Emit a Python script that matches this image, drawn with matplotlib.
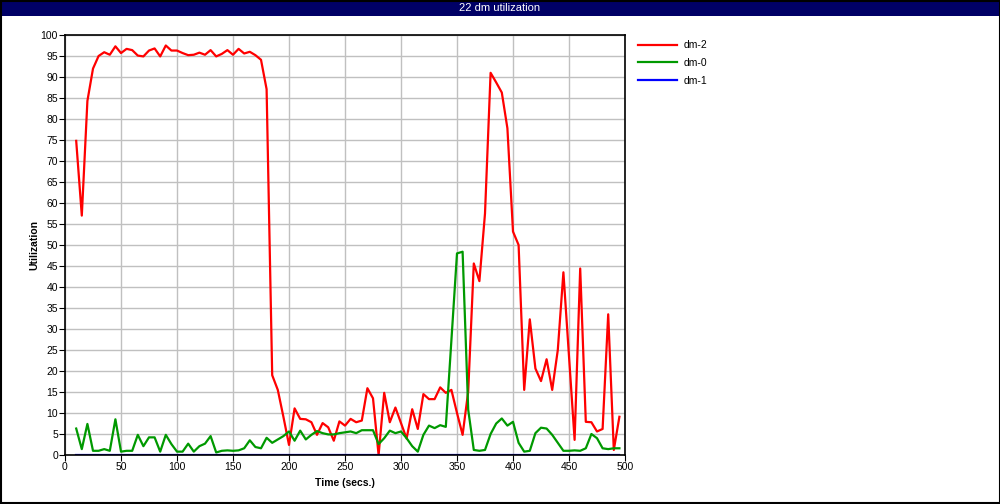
import numpy as np
import matplotlib.pyplot as plt
from matplotlib.patches import Rectangle

# sample times, every 5 seconds
t = np.arange(10, 500, 5)

dm2 = [74.8, 57.0, 84.3, 92.0, 95.0, 95.9, 95.3, 97.3, 95.7, 96.7,
       96.4, 95.1, 94.9, 96.3, 96.8, 94.9, 97.5, 96.3, 96.3, 95.7,
       95.2, 95.3, 95.8, 95.3, 96.4, 94.9, 95.5, 96.4, 95.3, 96.7,
       95.6, 96.0, 95.2, 94.1, 87.1, 19.0, 15.5, 9.1, 2.4, 11.1,
       8.6, 8.5, 7.8, 4.8, 7.6, 6.6, 3.4, 8.0, 7.0, 8.6,
       7.8, 8.2, 15.9, 13.5, 0.0, 14.8, 7.8, 11.3, 7.6, 3.9,
       10.9, 6.2, 14.5, 13.3, 13.3, 16.1, 14.8, 15.5, 10.0, 4.8,
       15.1, 45.6, 41.4, 57.5, 91.0, 88.7, 86.3, 77.8, 53.2, 50.0,
       15.5, 32.3, 20.6, 17.6, 22.8, 15.5, 25.0, 43.5, 23.5, 3.6,
       44.4, 7.9, 7.8, 5.6, 6.2, 33.5, 1.2, 9.1]

dm0 = [6.3, 1.4, 7.4, 1.0, 1.0, 1.4, 1.0, 8.5, 0.8, 1.0,
       1.0, 4.8, 2.1, 4.2, 4.2, 0.8, 4.8, 2.6, 0.8, 0.8,
       2.7, 0.8, 2.1, 2.7, 4.5, 0.6, 1.0, 1.1, 1.0, 1.1,
       1.6, 3.5, 1.9, 1.6, 4.1, 2.9, 3.7, 4.5, 5.6, 3.4,
       5.8, 3.7, 4.8, 5.7, 5.2, 4.9, 4.9, 5.2, 5.4, 5.6,
       5.2, 5.9, 5.9, 5.9, 2.6, 4.0, 5.8, 5.2, 5.6, 4.0,
       2.1, 0.8, 4.8, 7.0, 6.4, 7.1, 6.7, 27.3, 48.0, 48.4,
       10.8, 1.2, 1.0, 1.2, 5.0, 7.5, 8.7, 7.0, 7.9, 2.9,
       0.8, 1.0, 5.2, 6.5, 6.3, 4.8, 2.9, 1.0, 1.0, 1.1,
       1.0, 1.6, 5.0, 4.0, 1.6, 1.4, 1.6, 1.6]

dm1 = [0.0] * len(t)

plt.rcParams['font.family'] = ['Liberation Sans', 'DejaVu Sans']

fig = plt.figure(figsize=(10, 5.04), dpi=100)

# title bar and outer border
fig.patches.append(Rectangle((0, 1 - 16 / 504), 1, 16 / 504, transform=fig.transFigure,
                             facecolor='#000066', edgecolor='none'))
fig.patches.append(Rectangle((0.0005, 0.001), 0.999, 0.998, transform=fig.transFigure,
                             facecolor='none', edgecolor='black', linewidth=1.5))
fig.text(0.5, 1 - 8 / 504, '22 dm utilization', color='white', fontsize=8,
         ha='center', va='center')

ax = fig.add_axes([65 / 1000, 49 / 504, 560 / 1000, 420 / 504])
ax.plot(t, dm2, color='#ff0000', lw=1.6, label='dm-2')
ax.plot(t, dm0, color='#009900', lw=1.6, label='dm-0')
ax.plot(t, dm1, color='#0000ff', lw=1.6, label='dm-1')

ax.set_xlim(0, 500)
ax.set_ylim(0, 100)
ax.set_xticks(range(0, 501, 50))
ax.set_yticks(range(0, 101, 5))
ax.grid(True, color='#c0c0c0', lw=1)
ax.set_axisbelow(True)
ax.tick_params(labelsize=7.5, length=4, direction='out', pad=1)
for s in ax.spines.values():
    s.set_linewidth(1.2)
ax.set_xlabel('Time (secs.)', fontsize=7.5, fontweight='bold', labelpad=4)
ax.set_ylabel('Utilization', fontsize=7.5, fontweight='bold', labelpad=1)

ax.legend(loc='upper left', bbox_to_anchor=(1.01, 1.005), frameon=False, fontsize=7.5,
          handlelength=3.8, handletextpad=0.6, labelspacing=0.75, borderaxespad=0.3)

fig.savefig('out.png', dpi=100)
